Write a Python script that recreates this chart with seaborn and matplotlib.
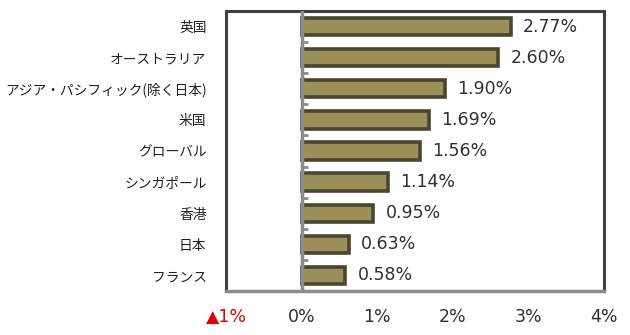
import matplotlib
matplotlib.use("Agg")
import matplotlib.pyplot as plt
import seaborn as sns
import numpy as np
import pandas as pd

categories = ["英国", "オーストラリア", "アジア・パシフィック(除く日本)", "米国", "グローバル",
              "シンガポール", "香港", "日本", "フランス"]
values = [2.77, 2.60, 1.90, 1.69, 1.56, 1.14, 0.95, 0.63, 0.58]
xticks = [-1, 0, 1, 2, 3, 4]
xticklabels = ["▲1%", "0%", "1%", "2%", "3%", "4%"]

sns.set_theme(style="white")
plt.rcParams['font.family'] = ['Noto Sans CJK JP', 'DejaVu Sans']

df = pd.DataFrame({"cat": categories, "val": values})

fig = plt.figure(figsize=(6.3, 3.35), dpi=100)
ax = fig.add_axes([226/630, 1-291/335, 378/630, 280/335])

sns.barplot(data=df, x="val", y="cat", orient="h", color="#9b8f5a",
            edgecolor="#4a4530", linewidth=2.6, width=0.56, ax=ax, saturation=1)

ax.set_xlim(-1, 4)
ax.set_ylim(len(categories) - 0.5, -0.5)
ax.set_xlabel("")
ax.set_ylabel("")

# zero line with category separators
ax.axvline(0, color="#8c8c8c", lw=2.5, zorder=5)
ax.hlines(np.arange(len(categories) - 1) + 0.5, 0, 0.09, color="#8c8c8c", lw=2, zorder=5)

for i, v in enumerate(values):
    ax.text(v + 0.16, i, f"{v:.2f}%", va="center", ha="left", fontsize=12.5, color="#303030",
            family=['DejaVu Sans'])

for side in ["left", "top", "right"]:
    ax.spines[side].set_color("#404040")
    ax.spines[side].set_linewidth(2.2)
ax.spines["bottom"].set_color("#8c8c8c")
ax.spines["bottom"].set_linewidth(2.5)

ax.set_xticks(xticks)
ax.set_xticklabels(xticklabels, fontsize=12.5, family=['DejaVu Sans'])
ax.tick_params(axis="x", direction="in", length=5, width=2.5, color="#8c8c8c", pad=12,
               labelcolor="#303030")
ax.get_xticklabels()[0].set_color("#e00000")
ax.tick_params(axis="y", length=0, pad=14, labelsize=9.9, labelcolor="#202020")

fig.savefig("out.png", dpi=100)
